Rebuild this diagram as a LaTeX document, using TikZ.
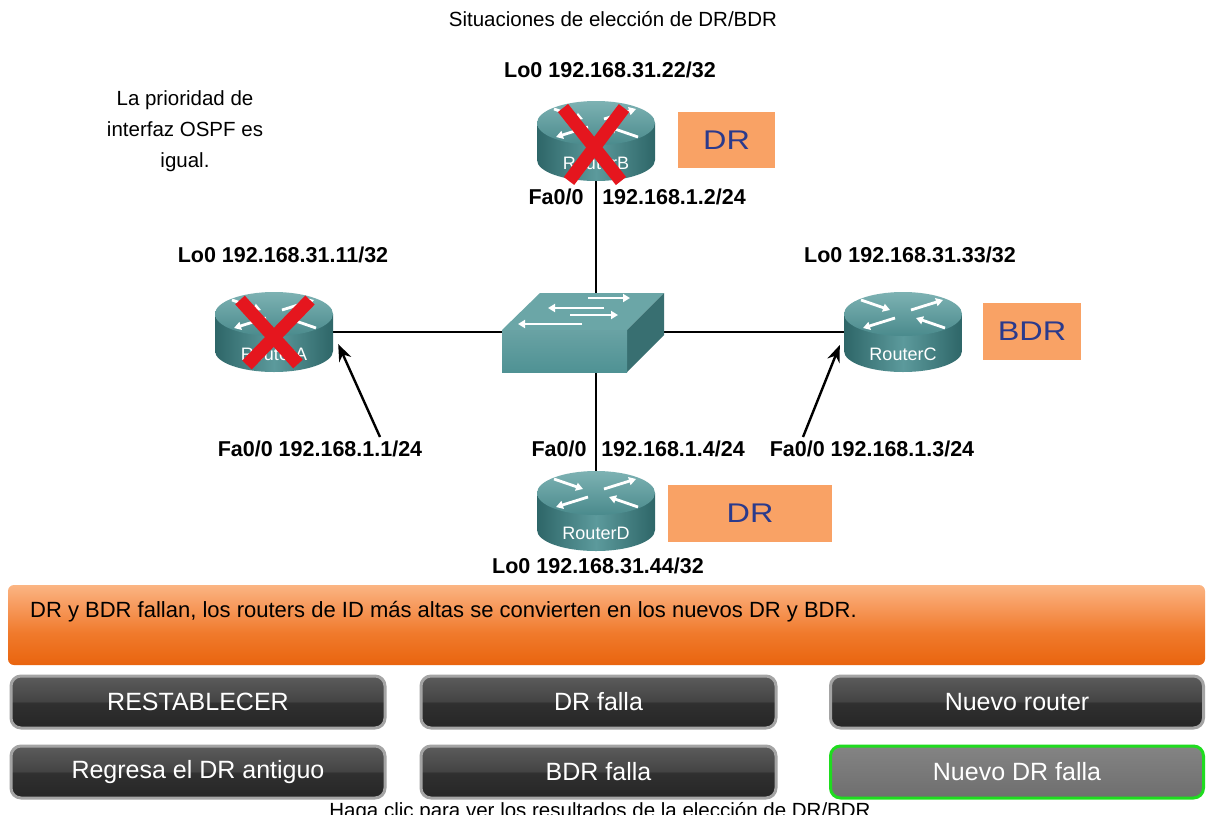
\documentclass[tikz,border=0pt]{standalone}
\usepackage{fontspec}
\setmainfont{Liberation Sans}
\usetikzlibrary{arrows.meta}

\definecolor{tealbodyD}{HTML}{2E6668}
\definecolor{tealbodyL}{HTML}{5C9A9C}
\definecolor{tealtopL}{HTML}{7DB2B3}
\definecolor{tealtopD}{HTML}{4A8A8C}
\definecolor{swfront}{HTML}{4F9294}
\definecolor{swtop}{HTML}{6BA6A7}
\definecolor{swside}{HTML}{386F71}
\definecolor{rolefill}{HTML}{F9A265}
\definecolor{roletext}{HTML}{2B3A8C}
\definecolor{crossred}{HTML}{E5161E}
\definecolor{btnrim}{HTML}{A4A4A4}
\definecolor{btnA}{HTML}{262626}
\definecolor{btnB}{HTML}{303030}
\definecolor{btnC}{HTML}{444444}
\definecolor{btnD}{HTML}{5C5C5C}
\definecolor{btnactive}{HTML}{6E6E6E}
\definecolor{btngreen}{HTML}{1FDC1F}
\definecolor{bnA}{HTML}{E9640E}
\definecolor{bnB}{HTML}{F07A2C}
\definecolor{bnC}{HTML}{F8A066}
\definecolor{bnD}{HTML}{FBB583}

% glossy two-tone fill of the buttons
\pgfdeclareverticalshading{btnshade}{100bp}{color(0bp)=(btnA); color(25bp)=(btnA); color(49bp)=(btnB); color(51bp)=(btnC); color(75bp)=(btnD); color(100bp)=(btnD)}
% orange message banner
\pgfdeclareverticalshading{bannershade}{100bp}{color(0bp)=(bnA); color(25bp)=(bnA); color(45bp)=(bnB); color(65bp)=(bnC); color(75bp)=(bnD); color(100bp)=(bnD)}

% Cisco-style router: cylinder with four arrows on the lid
\newcommand\routericon[2]{%
  \begin{scope}[shift={#1}]
    \shade[left color=tealbodyD, right color=tealbodyD, middle color=tealbodyL]
      (-59,-18) -- (-59,19) arc[start angle=180,end angle=0,x radius=59,y radius=21] -- (59,-18) -- cycle;
    \shade[top color=tealtopL, bottom color=tealtopD] (0,-18) ellipse[x radius=59,y radius=22];
    \draw[warrow] (-42,-32) -- (-13,-22);
    \draw[warrow] (42,-4) -- (13,-14);
    \draw[warrow] (8,-22) -- (40,-32);
    \draw[warrow] (-8,-14) -- (-40,-4);
    \node[rlabel] at (0,22) {#2};
  \end{scope}}

\begin{document}
\begin{tikzpicture}[x=1pt,y=-1pt,
  lbl/.style={font=\fontsize{21.5}{25}\selectfont\bfseries, inner sep=0},
  plain/.style={font=\fontsize{20.5}{24}\selectfont, inner sep=0},
  link/.style={line width=2.2, black},
  pointer/.style={line width=2.4, black, -{Stealth[length=17,width=13]}},
  warrow/.style={white, line width=2.8, -{Triangle[length=7,width=8]}},
  rolebox/.style={fill=rolefill, text=roletext, font=\fontsize{27}{30}\selectfont, inner sep=0},
  rlabel/.style={text=white, font=\fontsize{18}{20}\selectfont, inner sep=0},
  devspot/.style={inner sep=0, minimum width=118, minimum height=80},
  cross/.style={crossred, line width=13},
  btn/.style={rounded corners=10, draw=btnrim, line width=3, shading=btnshade, text=white,
    font=\fontsize{25}{29}\selectfont, inner sep=0, minimum height=52},
]
\useasboundingbox (0,0) rectangle (1215,814);
\clip (0,0) rectangle (1215,814);
\fill[white] (0,0) rectangle (1215,814);

% device positions
\node[devspot] (rb) at (596,141) {};
\node[devspot] (ra) at (274,332) {};
\node[devspot] (rc) at (903,332) {};
\node[devspot] (rd) at (596,511) {};
\node[inner sep=0] (sw) at (596,332) {};

% cabling
\draw[link] (ra) -- (sw);
\draw[link] (sw) -- (rc);
\draw[link] (rb) -- (sw);
\draw[link] (sw) -- (rd);

% switch
\fill[swtop] (502,330) -- (540,293) -- (664,293) -- (627,330) -- cycle;
\fill[swside] (627,330) -- (664,293) -- (664,335) -- (627,372) -- cycle;
\shade[top color=swfront!85!white, bottom color=swfront] (502,330) rectangle (627,372);
\draw[warrow, line width=2.4] (588,298) -- (630,298);
\draw[warrow, line width=2.4] (604,308) -- (548,308);
\draw[warrow, line width=2.4] (570,315) -- (618,315);
\draw[warrow, line width=2.4] (582,324) -- (518,324);

% routers
\routericon{(274,332)}{RouterA}
\routericon{(596,141)}{RouterB}
\routericon{(903,332)}{RouterC}
\routericon{(596,511)}{RouterD}

% failed routers
\draw[cross] (240,300) -- (298,364);
\draw[cross] (310,300) -- (247,365);
\draw[cross] (563,108) -- (621,181);
\draw[cross] (624,108) -- (569,181);

% roles
\node[rolebox, minimum width=97, minimum height=56] (drb) at (726.5,140) {\scalebox{1.2}[1]{DR}};
\node[rolebox, minimum width=98, minimum height=57] (bdrc) at (1032,331.5) {\scalebox{1.2}[1]{BDR}};
\node[rolebox, minimum width=164, minimum height=57] (drd) at (750,513.5) {\scalebox{1.2}[1]{DR}};

% texts
\node[plain] (title) at (613,19) {Situaciones de elección de DR/BDR};
\node[plain, align=center, font=\fontsize{20.5}{31}\selectfont] (note) at (185,131)
  {La prioridad de\\interfaz OSPF es\\igual.};
\node[lbl] (lob) at (610,70) {Lo0 192.168.31.22/32};
\node[lbl] (fab) at (556,197) {Fa0/0};
\node[lbl] (ipb) at (674,197) {192.168.1.2/24};
\node[lbl] (loa) at (283,255) {Lo0 192.168.31.11/32};
\node[lbl] (loc) at (910,255) {Lo0 192.168.31.33/32};
\node[lbl] (faa) at (320,449) {Fa0/0 192.168.1.1/24};
\node[lbl] (fad) at (559,449) {Fa0/0};
\node[lbl] (ipd) at (673,449) {192.168.1.4/24};
\node[lbl] (fac) at (872,449) {Fa0/0 192.168.1.3/24};
\node[lbl] (lod) at (598,566) {Lo0 192.168.31.44/32};

% pointers to the router interfaces
\coordinate (tailA) at (380,437);
\coordinate (tailC) at (803,437);
\draw[pointer] (tailA) -- ([shift={(5,12)}]ra.east);
\draw[pointer] (tailC) -- ([shift={(-4,13)}]rc.west);

% message banner
\node[rounded corners=6, shading=bannershade, minimum width=1197, minimum height=80, inner sep=0] (banner) at (606.5,625) {};
\node[plain, font=\fontsize{22}{26}\selectfont, anchor=west] (msg) at (30,612)
  {DR y BDR fallan, los routers de ID más altas se convierten en los nuevos DR y BDR.};

% buttons
\node[btn, minimum width=374] (b1) at (198,702) {RESTABLECER};
\node[btn, minimum width=355] (b2) at (598.5,702) {DR falla};
\node[btn, minimum width=373] (b3) at (1017,702) {Nuevo router};
\node[btn, minimum width=374] (b4) at (198,772) {Regresa el DR antiguo};
\node[btn, minimum width=355] (b5) at (598.5,772) {BDR falla};
\node[btn, minimum width=373, shading=axis, top color=btnactive!85!white, bottom color=btnactive, draw=btngreen] (b6) at (1017,772) {Nuevo DR falla};

\node[plain, anchor=north] (hint) at (600,802) {Haga clic para ver los resultados de la elección de DR/BDR};
\end{tikzpicture}
\end{document}
